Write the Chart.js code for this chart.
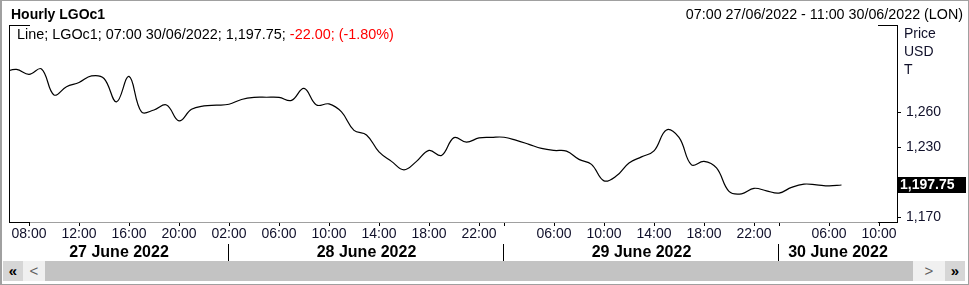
<!DOCTYPE html>
<html>
<head>
<meta charset="utf-8">
<script src="https://cdn.jsdelivr.net/npm/chart.js@4.4.1/dist/chart.umd.min.js"></script>
<style>
  body { margin: 0; background: #fff; font-family: "Liberation Sans", Arial, sans-serif; }
  #wrap { position: relative; width: 969px; height: 285px; overflow: hidden; }
  canvas { position: absolute; left: 0; top: 0; }
  #frame { position: absolute; left: 0; top: 0; width: 966px; height: 283px; border: 1px solid #a0a0a0; border-left: 2px solid #a0a0a0; pointer-events: none; }
  #title { position: absolute; left: 11px; top: 6px; font: bold 14px/17px "Liberation Sans", Arial, sans-serif; color: #000; }
  #range { position: absolute; right: 6px; top: 6px; font: 14.3px/17px "Liberation Sans", Arial, sans-serif; color: #000; }
  #legend { position: absolute; left: 17px; top: 26px; font: 14.4px/17px "Liberation Sans", Arial, sans-serif; color: #000; white-space: nowrap; }
  #legend .neg { color: #ff0000; }
  .sb { position: absolute; top: 261px; height: 20px; }
  .btn { font: bold 15px/20px "Liberation Sans", Arial, sans-serif; text-align: center; }
</style>
</head>
<body>
<div id="wrap">
  <canvas id="chart" width="969" height="285"></canvas>
  <div id="title">Hourly LGOc1</div>
  <div id="range">07:00 27/06/2022 - 11:00 30/06/2022 (LON)</div>
  <div id="legend">Line; LGOc1; 07:00 30/06/2022; 1,197.75; <span class="neg">-22.00; (-1.80%)</span></div>
  <div class="sb btn" style="left:3px;width:20px;background:#d6d6d6;color:#000;">&laquo;</div>
  <div class="sb btn" style="left:23px;width:22px;background:#f0f0f0;color:#606060;font-weight:normal;">&lt;</div>
  <div class="sb" style="left:45px;width:868px;background:#c3c3c3;"></div>
  <div class="sb btn" style="left:913px;width:32px;background:#f0f0f0;color:#606060;font-weight:normal;">&gt;</div>
  <div class="sb btn" style="left:945px;width:20px;background:#d6d6d6;color:#000;">&raquo;</div>
  <div id="frame"></div>
</div>
<script>
// hourly closes, first point is 06:00 27/06 (just left of the window), last is 07:00 30/06
const values = [
  1294.7, 1296.9, 1292.7, 1297.3, 1275.0, 1282.1, 1285.7, 1291.3, 1289.1, 1269.0,
  1290.9, 1260.4, 1262.1, 1266.4, 1252.7, 1262.7, 1265.6, 1266.2, 1267.0, 1271.1,
  1272.9, 1273.0, 1272.9, 1270.3, 1280.6, 1266.4, 1267.3, 1260.4, 1244.6, 1240.7,
  1226.1, 1218.0, 1210.7, 1218.0, 1227.4, 1223.1, 1238.4, 1234.5, 1238.1, 1238.6,
  1238.7, 1236.0, 1232.6, 1229.1, 1227.4, 1226.8, 1219.7, 1215.4, 1201.3, 1205.6,
  1216.7, 1221.9, 1227.0, 1245.0, 1238.6, 1215.0, 1218.0, 1212.4, 1192.3, 1190.2,
  1194.9, 1192.7, 1190.8, 1195.7, 1198.5, 1197.9, 1197.0, 1197.75
];

// trading-hour positions of the time ticks
const tickIndex = [1, 5, 9, 13, 17, 21, 25, 29, 33, 37, 39, 43, 47, 51, 55, 59, 61, 65, 69];
const tickLabels = ["08:00", "12:00", "16:00", "20:00", "02:00", "06:00", "10:00", "14:00", "18:00", "22:00",
  "", "06:00", "10:00", "14:00", "18:00", "22:00", "", "06:00", "10:00"];

const dayLabels = ["27 June 2022", "28 June 2022", "29 June 2022", "30 June 2022"];
const daySplit = [17, 39, 61];

const priceTicks = [1170, 1230, 1260];
const unitLabels = ["Price", "USD", "T"];

const FONT = "'Liberation Sans', Arial, sans-serif";

const decor = {
    id: "decor",
    afterDraw(chart) {
        const { ctx, chartArea: a, scales } = chart;
        const x = scales.x, y = scales.y;
        ctx.save();

        // frame round the plot
        ctx.lineWidth = 1;
        ctx.strokeStyle = "#000";
        ctx.beginPath();
        ctx.moveTo(a.left + 0.5, a.top); ctx.lineTo(a.left + 0.5, a.bottom + 1);
        ctx.moveTo(a.right + 0.5, a.top); ctx.lineTo(a.right + 0.5, a.bottom + 1);
        ctx.moveTo(a.left, a.top + 0.5); ctx.lineTo(a.left + 21, a.top + 0.5);
        ctx.moveTo(a.right - 19, a.top + 0.5); ctx.lineTo(a.right + 1, a.top + 0.5);
        ctx.moveTo(a.left, a.bottom + 0.5); ctx.lineTo(a.left + 21, a.bottom + 0.5);
        ctx.moveTo(a.right - 19, a.bottom + 0.5); ctx.lineTo(a.right + 1, a.bottom + 0.5);
        ctx.stroke();
        ctx.strokeStyle = "#a0a0a0";
        ctx.beginPath();
        ctx.moveTo(a.left + 21, a.bottom + 0.5); ctx.lineTo(a.right - 19, a.bottom + 0.5);
        ctx.stroke();

        // day row
        const bounds = [a.left, ...daySplit.map(i => x.getPixelForValue(i)), a.right];
        ctx.strokeStyle = "#000";
        ctx.beginPath();
        daySplit.forEach(i => {
            const px = Math.round(x.getPixelForValue(i)) - 0.5;
            ctx.moveTo(px, 244); ctx.lineTo(px, 261);
        });
        ctx.stroke();
        ctx.fillStyle = "#000";
        ctx.font = "bold 16px " + FONT;
        ctx.textAlign = "center";
        ctx.textBaseline = "alphabetic";
        dayLabels.forEach((d, k) => ctx.fillText(d, (bounds[k] + bounds[k + 1]) / 2, 257));

        // unit labels on the price axis
        ctx.font = "14px " + FONT;
        ctx.textAlign = "left";
        ctx.fillStyle = "#10102a";
        unitLabels.forEach((t, k) => ctx.fillText(t, a.right + 7, 38 + k * 18));

        // last value tag
        const last = values[values.length - 1];
        const py = Math.round(y.getPixelForValue(last));
        ctx.fillStyle = "#000";
        ctx.fillRect(a.right + 1, py - 8, 68, 16);
        ctx.fillStyle = "#fff";
        ctx.font = "bold 14px " + FONT;
        ctx.textBaseline = "middle";
        ctx.fillText(last.toLocaleString("en-US", { minimumFractionDigits: 2 }), a.right + 3, py + 0.5);

        ctx.restore();
    }
};

new Chart(document.getElementById("chart"), {
    type: "line",
    data: {
        datasets: [{
            data: values.map((v, i) => ({ x: i - 1, y: v })),
            borderColor: "#000",
            borderWidth: 1.2,
            pointRadius: 0,
            tension: 0.4,
            fill: false
        }]
    },
    options: {
        responsive: false,
        animation: false,
        devicePixelRatio: 1,
        layout: { padding: { left: 9, top: 25, right: 0, bottom: 0 } },
        plugins: { legend: { display: false }, tooltip: { enabled: false } },
        scales: {
            x: {
                type: "linear",
                min: -0.6,
                max: 70.44,
                border: { display: false },
                grid: { drawOnChartArea: false, tickLength: 4, tickColor: "#000" },
                afterBuildTicks: (s) => { s.ticks = tickIndex.map(v => ({ value: v })); },
                afterFit: (s) => { s.height = 63; },
                ticks: {
                    autoSkip: false,
                    maxRotation: 0,
                    padding: 0,
                    color: "#10102a",
                    font: { family: FONT, size: 14 },
                    callback: (v) => tickLabels[tickIndex.indexOf(v)]
                }
            },
            y: {
                position: "right",
                min: 1166,
                max: 1335,
                border: { display: false },
                grid: { drawOnChartArea: false, tickLength: 4, tickColor: "#000" },
                afterBuildTicks: (s) => { s.ticks = priceTicks.map(v => ({ value: v })); },
                afterFit: (s) => { s.width = 72; },
                ticks: {
                    padding: 5,
                    color: "#10102a",
                    font: { family: FONT, size: 14 },
                    callback: (v) => v.toLocaleString("en-US")
                }
            }
        }
    },
    plugins: [decor]
});
</script>
</body>
</html>
